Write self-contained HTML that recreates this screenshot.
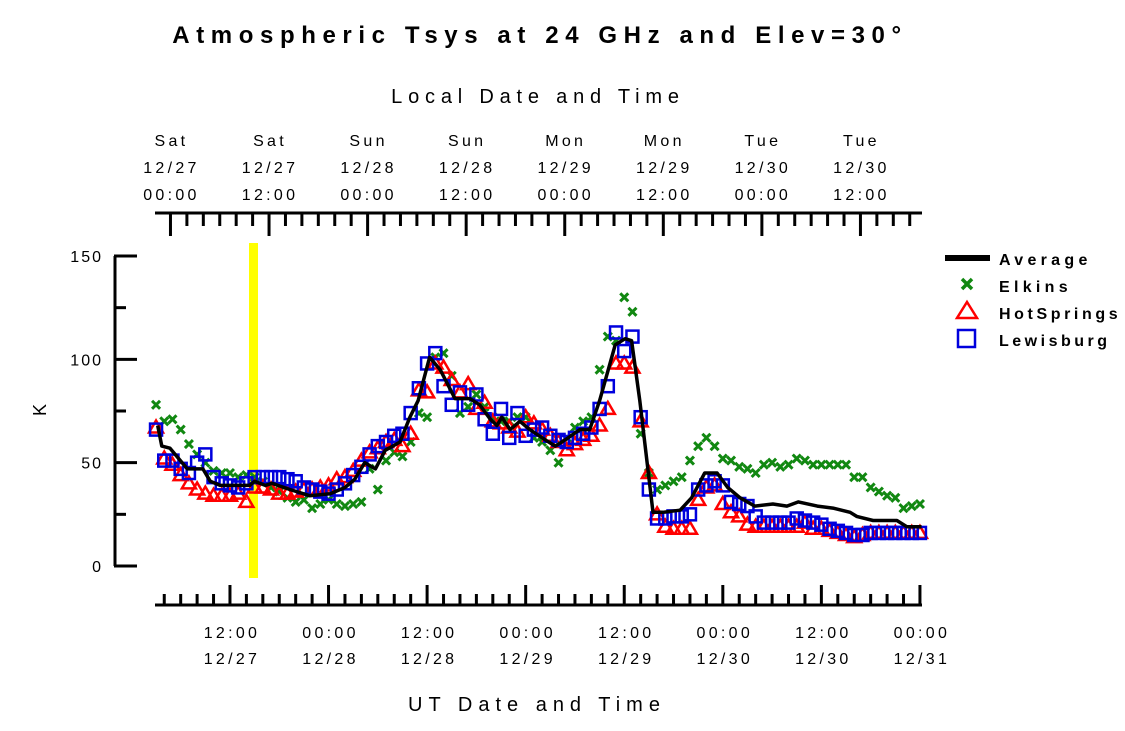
<!DOCTYPE html>
<html><head><meta charset="utf-8"><style>
html,body{margin:0;padding:0;background:#fff}
svg{display:block;font-family:"Liberation Sans",sans-serif}
</style></head><body>
<svg id="chart" width="1125" height="731" viewBox="0 0 1125 731" xmlns="http://www.w3.org/2000/svg">
<text x="540" y="43" text-anchor="middle" font-size="24" font-weight="bold" letter-spacing="6.6">Atmospheric Tsys at 24 GHz and Elev=30°</text>
<text x="538" y="103" text-anchor="middle" font-size="20" letter-spacing="5.8">Local Date and Time</text>
<text x="537" y="711" text-anchor="middle" font-size="20" letter-spacing="6">UT Date and Time</text>
<text x="0" y="0" transform="translate(46,410) rotate(-90)" text-anchor="middle" font-size="18">K</text>
<rect x="249" y="243" width="9" height="335" fill="#ffff00"/>
<g id="axes"></g>
<g id="series"></g>
<g font-size="16" font-weight="bold" letter-spacing="4.3">
<rect x="945" y="255" width="45" height="6" fill="#000"/>
<text x="999" y="265">Average</text>
<path d="M962,279 L972,289 M972,279 L962,289" stroke="#118811" stroke-width="3.5"/>
<text x="999" y="292">Elkins</text>
<path d="M967,302 L977,318 L957,318 Z" fill="none" stroke="#ff0000" stroke-width="2.5"/>
<text x="999" y="319" letter-spacing="3.6">HotSprings</text>
<rect x="958" y="330" width="17" height="17" fill="none" stroke="#0000dd" stroke-width="2.5"/>
<text x="999" y="346" letter-spacing="3.5">Lewisburg</text>
</g>
</svg>
<script>
// hourly samples, t = hours since 00:00 UT 12/27
const sampleStart = 3;
const hotSprings = [67,52,49,44,40,37,35,34,34,34,35,31,38,38,37,35,35,36,37,37,38,39,42,43,46,51,55,57,60,61,58,64,85,84,98,96,90,84,88,76,79,70,69,67,65,72,69,66,63,60,56,59,61,63,68,76,98,98,96,70,45,25,19,18,18,18,32,38,39,30,26,24,20,19,19,19,19,19,19,21,18,18,17,16,15,14,15,16,16,16,16,16,16,16];
const lewisburg = [66,51,51,47,45,50,54,43,40,39,38,40,43,43,43,43,42,41,38,37,36,35,37,40,44,48,54,58,60,63,64,74,86,98,103,87,78,84,78,83,71,64,76,62,74,63,66,67,63,61,60,62,64,67,76,87,113,104,111,72,37,23,23,24,24,25,37,39,41,39,31,30,29,24,21,21,21,21,23,22,21,20,18,17,16,15,15,16,16,16,16,16,16,16];
const elkins = [78,70,71,66,59,54,50,46,45,45,43,44,43,41,38,36,33,31,32,28,30,32,30,29,30,31,47,37,51,55,53,60,74,72,101,103,92,74,77,83,77,72,70,70,72,72,62,60,56,50,62,67,70,72,95,111,109,130,123,64,45,37,39,41,43,51,58,62,58,52,51,48,47,45,49,50,48,49,52,51,49,49,49,49,49,43,43,38,36,34,33,28,29,30];
const avgTimes = [3.2,3.7,4.7,6.8,8.7,9.6,10.8,14.4,15,16.3,17.1,19.3,21.7,24.2,26,27.2,28.4,29.7,30.9,32.7,33.9,34.9,36.3,37.6,39.4,41.2,42.4,43.7,44.5,45.1,46.1,47.3,48.5,50.4,51.6,52.8,54.6,55.8,57,58.9,60.1,60.9,61.9,62.9,63.5,64.7,66.8,68.2,69.8,71.3,72.6,74.1,75.9,78.1,79.8,81.2,83.5,85.4,87.5,88.3,90.3,93.2,94.4,96.2];
const avgValues = [68,58,57,47,47,41,39,39,41,39,40,37,34,35,38,42,50,47,56,60,72,80,101,95,81,81,78,71,68,72,66,70,66,61,58,61,66,66,80,107,110,109,80,46,26,26,27,33,45,45,38,33,29,30,29,31,29,28,26,24,22,22,19,19];
const yTicks = [0,50,100,150];
const bottomTime = ["12:00","00:00","12:00","00:00","12:00","00:00","12:00","00:00"];
const bottomDate = ["12/27","12/28","12/28","12/29","12/29","12/30","12/30","12/31"];
const topDay = ["Sat","Sat","Sun","Sun","Mon","Mon","Tue","Tue"];
const topDate = ["12/27","12/27","12/28","12/28","12/29","12/29","12/30","12/30"];
const topTime = ["00:00","12:00","00:00","12:00","00:00","12:00","00:00","12:00"];

const NS = "http://www.w3.org/2000/svg";
const X = t => 131.4 + 8.214 * t;
const Y = v => 566 - v * 2.0667;
function mk(tag, attrs, parent){const e=document.createElementNS(NS,tag);for(const k in attrs)e.setAttribute(k,attrs[k]);parent.appendChild(e);return e;}
const axes = document.getElementById('axes');
const ser = document.getElementById('series');

let yl = mk('line',{x1:115,y1:Y(0),x2:115,y2:Y(150),stroke:'#000','stroke-width':3},axes);
 
for(let v=0; v<=150; v+=25){
  const major = v%50===0;
  const tk = mk('line',{x1:114,y1:Y(v),x2:major?137:126,y2:Y(v),stroke:'#000','stroke-width':3},axes);
   
}
yTicks.forEach(v=>{
  const t = mk('text',{x:103,y:Y(v)+6,'text-anchor':'end','font-size':16,'letter-spacing':2},axes);
  t.textContent = v;
   
});

let bl = mk('line',{x1:155,y1:605,x2:922,y2:605,stroke:'#000','stroke-width':3},axes);
 
for(let t=4; t<=96; t+=2){
  const major = t%12===0;
  const tk = mk('line',{x1:X(t),y1:606,x2:X(t),y2:major?585:594,stroke:'#000','stroke-width':3},axes);
   
}
bottomTime.forEach((s,i)=>{
  const x = X(12+12*i);
  const a = mk('text',{x:x+2,y:638,'text-anchor':'middle','font-size':16,'letter-spacing':3.3},axes);
  a.textContent = s;
   
  const b = mk('text',{x:x+2,y:664,'text-anchor':'middle','font-size':16,'letter-spacing':3.3},axes);
  b.textContent = bottomDate[i];
   
});

let tl = mk('line',{x1:155,y1:213,x2:922,y2:213,stroke:'#000','stroke-width':3},axes);
 
for(let t=5; t<=95; t+=2){
  const major = (t-5)%12===0;
  const tk = mk('line',{x1:X(t)-2,y1:212,x2:X(t)-2,y2:major?236:226,stroke:'#000','stroke-width':3},axes);
   
}
topDay.forEach((s,i)=>{
  const x = X(5+12*i)-1;
  [[s,146,'top-day-label'],[topDate[i],173,'top-date-label'],[topTime[i],200,'top-time-label']].forEach(r=>{
    const e = mk('text',{x:x,y:r[1],'text-anchor':'middle','font-size':16,'letter-spacing':3.3},axes);
    e.textContent = r[0];
     
  });
});

elkins.forEach((v,i)=>{
  const x=X(sampleStart+i), y=Y(v);
  const p = mk('path',{d:`M${x-4},${y-4}L${x+4},${y+4}M${x+4},${y-4}L${x-4},${y+4}`,stroke:'#118811','stroke-width':3},ser);
   
});
hotSprings.forEach((v,i)=>{
  const x=X(sampleStart+i), y=Y(v);
  const p = mk('path',{d:`M${x},${y-7}L${x+7},${y+5}L${x-7},${y+5}Z`,fill:'none',stroke:'#ff0000','stroke-width':2.5},ser);
   
});
lewisburg.forEach((v,i)=>{
  const x=X(sampleStart+i), y=Y(v);
  const p = mk('rect',{x:x-6,y:y-6,width:12,height:12,fill:'none',stroke:'#0000dd','stroke-width':2.5},ser);
   
});
const avgPts = avgTimes.map((t,i)=>X(t).toFixed(1)+','+Y(avgValues[i]).toFixed(1)).join(' ');
const al = mk('polyline',{points:avgPts,fill:'none',stroke:'#000','stroke-width':3.5,'stroke-linejoin':'round'},ser);
 
</script>
</body></html>
